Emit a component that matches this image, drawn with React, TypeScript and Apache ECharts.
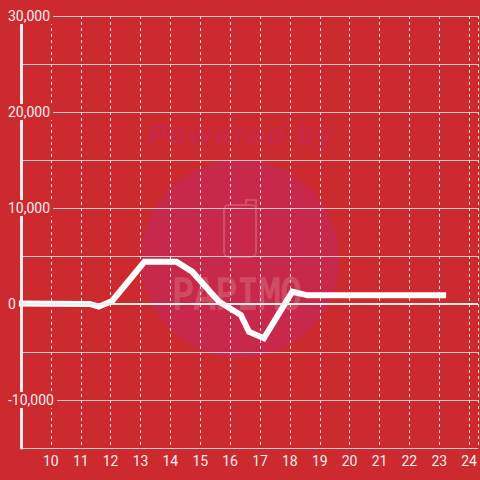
import React, { useEffect, useRef } from "react";
import * as echarts from "echarts";

// Data (x: hour of day, y: value)
const xValues = [9.0, 11.3, 11.6, 12.05, 13.13, 14.2, 14.73, 15.63, 16.36, 16.63, 17.13, 18.08, 18.6, 23.13];
const yValues = [50, 0, -280, 320, 4400, 4400, 3370, 240, -1150, -2890, -3570, 1280, 900, 900];

const yMin = -15000;
const yMax = 30000;
const yStep = 5000;
const yLabelMin = -10000;
const yLabelStep = 10000;
const xMin = 9;
const xMax = 24.3;
const xStep = 1;

const BG = "#cc2a2f";
const FONT = "Roboto";

export default function App() {
  const ref = useRef<HTMLDivElement>(null);

  useEffect(() => {
    if (!ref.current) return;
    const chart = echarts.init(ref.current, undefined, { renderer: "svg" });
    const seriesData = xValues.map((x, i) => [x, yValues[i]]);

    chart.setOption({
      animation: false,
      backgroundColor: BG,
      textStyle: { fontFamily: FONT },
      grid: [
        { left: 21, right: 0, top: 16, bottom: 32 },
        { left: 21, right: 0, top: 16, bottom: 80 },
      ],
      graphic: [
        {
          type: "group",
          z: 0,
          silent: true,
          children: [
            {
              type: "circle",
              shape: { cx: 240, cy: 259, r: 99 },
              style: { fill: "#c8284a" },
            },
            {
              type: "text",
              x: 148,
              y: 121,
              style: {
                text: "Powered by",
                fontSize: 28,
                fontWeight: "bold",
                fontStyle: "italic",
                fontFamily: "DejaVu Sans",
                fill: "#c82944",
              },
            },
            {
              type: "rect",
              shape: { x: 224, y: 205, width: 32, height: 52, r: 5 },
              style: { fill: "none", stroke: "#d0506a", lineWidth: 2 },
            },
            {
              type: "polyline",
              shape: { points: [[246, 205], [246, 200], [256, 200], [256, 212]] },
              style: { fill: "none", stroke: "#d0506a", lineWidth: 2 },
            },
            {
              type: "text",
              x: 172,
              y: 272,
              scaleY: 1.2,
              style: {
                text: "PAPIMO",
                fontSize: 36,
                fontFamily: "DejaVu Sans Mono",
                fill: "#d04a62",
                stroke: "#d45a70",
                lineWidth: 1,
              },
            },
          ],
        },
      ],
      xAxis: [
        {
          type: "value",
          gridIndex: 0,
          position: "bottom",
          min: xMin,
          max: xMax,
          interval: xStep,
          z: 1,
          axisLine: { show: false, onZero: false },
          axisTick: { show: false },
          axisLabel: {
            show: true,
            color: "#eeeeee",
            fontSize: 14,
            fontFamily: FONT,
            margin: 6,
            showMinLabel: false,
            showMaxLabel: false,
          },
          splitLine: {
            show: true,
            lineStyle: { color: "#dddddd", width: 1, type: [3, 3] },
          },
        },
        {
          type: "value",
          gridIndex: 1,
          position: "bottom",
          min: xMin,
          max: xMax,
          show: false,
        },
      ],
      yAxis: [
        {
          type: "value",
          gridIndex: 0,
          position: "left",
          min: yMin,
          max: yMax,
          interval: yStep,
          z: 1,
          axisLine: { show: false },
          axisTick: { show: false },
          axisLabel: { show: false },
          splitLine: { show: true, lineStyle: { color: "#cccccc", width: 1 } },
        },
        {
          type: "value",
          gridIndex: 0,
          position: "left",
          offset: 0,
          min: yMin,
          max: yMax,
          interval: yStep,
          z: 3,
          axisLine: { show: true, onZero: false, lineStyle: { color: "#eeeeee", width: 3 } },
          axisTick: { show: false },
          axisLabel: { show: false },
          splitLine: { show: false },
        },
        {
          type: "value",
          gridIndex: 1,
          position: "left",
          min: yLabelMin,
          max: yMax,
          interval: yLabelStep,
          z: 4,
          axisLine: { show: false },
          axisTick: { show: false },
          splitLine: { show: false },
          axisLabel: {
            show: true,
            color: "#eeeeee",
            fontSize: 14,
            fontFamily: FONT,
            align: "left",
            margin: 14,
            backgroundColor: BG,
            padding: [1, 3, 1, 1],
          },
        },
      ],
      series: [
        {
          type: "line",
          xAxisIndex: 0,
          yAxisIndex: 0,
          data: seriesData,
          z: 2,
          clip: false,
          showSymbol: false,
          symbol: "none",
          lineStyle: { color: "#ffffff", width: 6, cap: "square", join: "miter" },
          markLine: {
            silent: true,
            symbol: ["none", "none"],
            label: { show: false },
            lineStyle: { color: "#eeeeee", width: 2, type: "solid" },
            data: [{ yAxis: 0 }],
          },
        },
      ],
    });

    return () => chart.dispose();
  }, []);

  return (
    <div
      ref={ref}
      style={{ position: "fixed", left: 0, top: 0, width: 480, height: 480 }}
    />
  );
}
